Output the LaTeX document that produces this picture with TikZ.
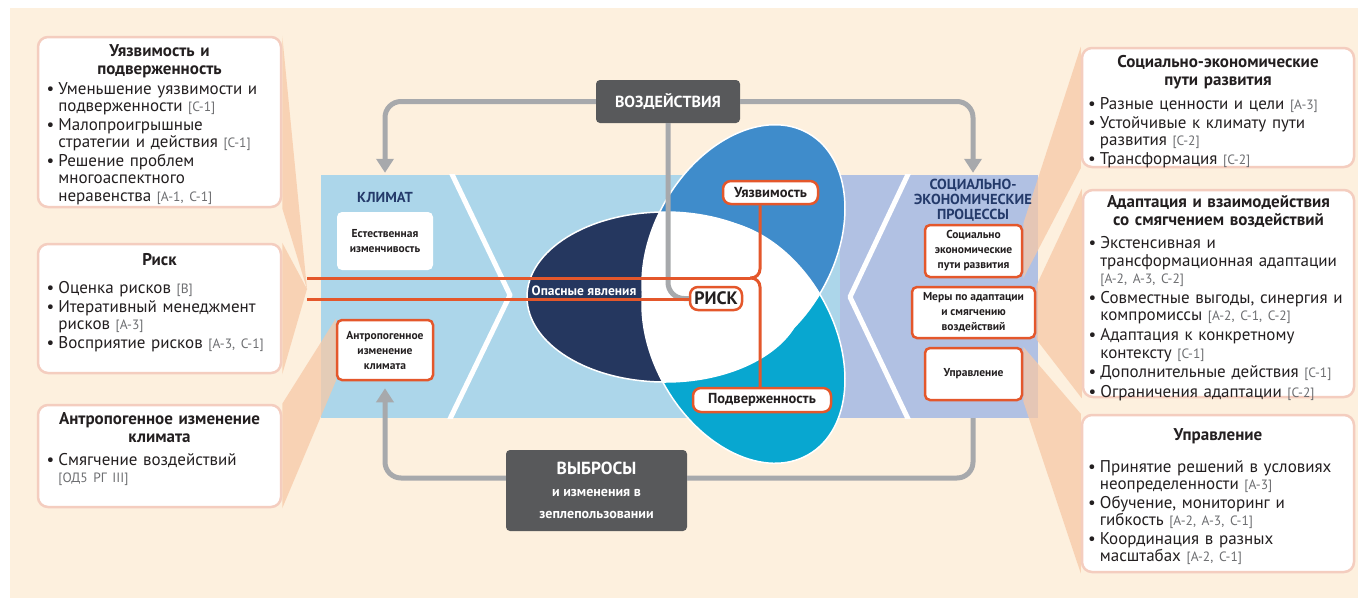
\documentclass[tikz,border=0pt]{standalone}
\usepackage{fontspec}
\setmainfont{PT Sans}
\usetikzlibrary{arrows.meta, positioning, calc}
\definecolor{Cream}{HTML}{FDF0DE}
\definecolor{Peach}{HTML}{F7C9A6}
\definecolor{ClimBlue}{HTML}{ACD6EA}
\definecolor{SocBlue}{HTML}{B1C1E3}
\definecolor{Navy}{HTML}{25375F}
\definecolor{PetalBlue}{HTML}{3F8CCB}
\definecolor{PetalTeal}{HTML}{08A7D0}
\definecolor{RiskOrange}{HTML}{E4572B}
\definecolor{BoxGray}{HTML}{58595B}
\definecolor{FlowGray}{HTML}{A7A9AC}
\definecolor{CallBorder}{HTML}{F4CDBF}
\definecolor{NavyText}{HTML}{243A6A}
\definecolor{RefGray}{HTML}{6D6E71}
\definecolor{TextDark}{HTML}{231F20}
\pgfdeclarelayer{back}
\pgfdeclarelayer{wedges}
\pgfsetlayers{back,wedges,main}
\newcommand{\refs}[1]{{\fontsize{13.5}{14}\selectfont\color{RefGray}#1}}
\newcommand{\ctitle}[2][2pt]{{\centering\fontsize{17}{18}\selectfont\bfseries #2\par}\vspace{#1}}
\newcommand{\bitem}[1]{\noindent\hangindent=0.7em\hangafter=1\makebox[0.7em][l]{\textbullet}#1\par}

\begin{document}
\begin{tikzpicture}[
    x=1pt, y=-1pt,
    band/.style={rectangle, inner sep=0pt},
    callout/.style={rectangle, rounded corners=10pt, draw=CallBorder, line width=2.5pt, fill=white},
    calltext/.style={text width=#1, align=left, inner sep=0pt,
                     font=\fontsize{17}{17.5}\selectfont, text=TextDark,
                     execute at begin node={\setlength{\parskip}{1pt}}},
    calltext/.default=226pt,
    smallbox/.style={rectangle, rounded corners=5pt, fill=white, draw=RiskOrange, line width=2.5pt,
                     align=center, font=\fontsize{11.5}{15}\selectfont\bfseries, text=TextDark},
    tag/.style={rectangle, rounded corners=8pt, fill=white, draw=RiskOrange, line width=2.5pt,
                inner sep=0pt, font=\fontsize{14.5}{16}\selectfont\bfseries, text=TextDark},
    darkbox/.style={rectangle, rounded corners=4pt, fill=BoxGray, text=white, align=center},
    flow/.style={draw=FlowGray, line width=5pt, rounded corners=16pt},
    flowarrow/.style={flow, -{Triangle[length=14pt, width=17pt]}},
    riskline/.style={draw=RiskOrange, line width=3pt},
    wedge/.style={fill=Peach, fill opacity=0.75},
    chevron/.style={draw=white, line width=5pt, line join=round},
    bandtitle/.style={font=\fontsize{14.5}{15}\selectfont\bfseries, text=NavyText, align=center},
    petal/.style={rotate around={#1}}
]
    \useasboundingbox (0,0) rectangle (1368,603);

    % Background and bands
    \begin{pgfonlayer}{back}
        \fill[Cream] (10,8) rectangle (1358,598);
        \node[band, fill=ClimBlue, minimum width=519, minimum height=243] (climate) at (580.5,296.5) {};
        \node[band, fill=SocBlue, minimum width=198, minimum height=243] (socio) at (939,296.5) {};
        \begin{scope}
            \clip (climate.north west) rectangle (socio.south east);
            \draw[chevron] (450,170) -- (510,295) -- (448,423);
            \draw[chevron] (910,170) -- (850,297) -- (910,423);
        \end{scope}
    \end{pgfonlayer}

    % Hazards, vulnerability, exposure
    \fill[Navy] (665,297) ellipse [x radius=138, y radius=85];
    \fill[PetalBlue, petal={60:(743.5,246)}] (743.5,246) ellipse [x radius=130, y radius=90];
    \fill[PetalTeal, petal={-60:(743.5,342)}] (743.5,342) ellipse [x radius=130, y radius=90];
    \begin{scope}
        \clip (665,297) ellipse [x radius=138, y radius=85];
        \fill[white, petal={60:(743.5,246)}] (743.5,246) ellipse [x radius=130, y radius=90];
        \fill[white, petal={-60:(743.5,342)}] (743.5,342) ellipse [x radius=130, y radius=90];
    \end{scope}
    \begin{scope}
        \clip[petal={60:(743.5,246)}] (743.5,246) ellipse [x radius=130, y radius=90];
        \fill[white, petal={-60:(743.5,342)}] (743.5,342) ellipse [x radius=130, y radius=90];
    \end{scope}
    \draw[white, line width=1.5pt] (665,297) ellipse [x radius=138, y radius=85];
    \draw[white, line width=1.5pt, petal={60:(743.5,246)}] (743.5,246) ellipse [x radius=130, y radius=90];
    \draw[white, line width=1.5pt, petal={-60:(743.5,342)}] (743.5,342) ellipse [x radius=130, y radius=90];

    % Drivers
    \node[darkbox, minimum width=144, minimum height=43, font=\fontsize{16}{18}\selectfont\bfseries] (vozd) at (668,101.5) {ВОЗДЕЙСТВИЯ};
    \node[darkbox, minimum width=181, minimum height=81, font=\fontsize{14}{22}\selectfont\bfseries] (vybr) at (596.5,490.5)
        {{\fontsize{17.5}{22}\selectfont ВЫБРОСЫ}\\и изменения в\\зеплепользовании};

    % Climate side
    \node[bandtitle] (climlabel) at (385,197) {КЛИМАТ};
    \node[smallbox, draw=none, minimum width=96, minimum height=58] (natvar) at (385,241) {Естественная\\изменчивость};
    \node[smallbox, minimum width=96, minimum height=60] (anthr) at (385,350) {Антропогенное\\изменение\\климата};

    % Socioeconomic side
    \node[bandtitle] (soclabel) at (973,200) {СОЦИАЛЬНО-\\ЭКОНОМИЧЕСКИЕ\\ПРОЦЕССЫ};
    \node[smallbox, minimum width=97, minimum height=52] (sepbox) at (973.5,251) {Социально\\экономические\\пути развития};
    \node[smallbox, minimum width=123, minimum height=51] (meras) at (973.5,312.5) {Меры по адаптации\\и смягчению\\воздействий};
    \node[smallbox, minimum width=97, minimum height=52] (uprav) at (973.5,374) {Управление};

    % Risk tags
    \node[font=\fontsize{13.5}{15}\selectfont\bfseries, text=white] (hazard) at (584,291) {Опасные явления};
    \node[tag, minimum width=52, minimum height=23, font=\fontsize{18}{18}\selectfont\bfseries] (risk) at (716,298.5) {РИСК};
    \node[tag, minimum width=95, minimum height=23] (uyaz) at (770.5,192.5) {Уязвимость};
    \node[tag, minimum width=138, minimum height=24] (podv) at (762,400) {Подверженность};

    % Callouts, left
    \node[callout, minimum width=243, minimum height=170] (vulncall) at (159.5,122) {};
    \node[calltext, below=9pt of vulncall.north] (vulntext) {
        \ctitle[1pt]{Уязвимость и\\подверженность}
        \bitem{Уменьшение уязвимости и\newline подверженности \refs{[С-1]}}
        \bitem{Малопроигрышные\newline стратегии и действия \refs{[С-1]}}
        \bitem{Решение проблем\newline многоаспектного\newline неравенства \refs{[А-1, С-1]}}
    };
    \node[callout, minimum width=243, minimum height=129] (riskcall) at (159.5,308.5) {};
    \node[calltext, below=10pt of riskcall.north] (risktext) {
        \ctitle[10pt]{Риск}
        \bitem{Оценка рисков \refs{[В]}}
        \bitem{Итеративный менеджмент\newline рисков \refs{[А-3]}}
        \bitem{Восприятие рисков \refs{[А-3, С-1]}}
    };
    \node[callout, minimum width=243, minimum height=102] (anthcall) at (159.5,456) {};
    \node[calltext, below=9pt of anthcall.north] (anthtext) {
        \ctitle[4pt]{Антропогенное изменение\\климата}
        \bitem{Смягчение воздействий\newline\refs{[ОД5 РГ III]}}
    };

    % Callouts, right
    \node[callout, minimum width=272, minimum height=119] (sepcall) at (1218,107.5) {};
    \node[calltext=260pt, below=8pt of sepcall.north] (septext) {
        \ctitle[6pt]{Социально-экономические\\пути развития}
        \bitem{Разные ценности и цели \refs{[А-3]}}
        \bitem{Устойчивые к климату пути\newline развития \refs{[С-2]}}
        \bitem{Трансформация \refs{[С-2]}}
    };
    \node[callout, minimum width=271, minimum height=207] (adcall) at (1218.5,293.5) {};
    \node[calltext=260pt, below=7pt of adcall.north,
          execute at begin node={\setlength{\parskip}{2.2pt}}] (adtext) {
        \ctitle[3pt]{Адаптация и взаимодействия\\со смягчением воздействий}
        \bitem{Экстенсивная и\newline трансформационная адаптации\newline\refs{[А-2, А-3, С-2]}}
        \bitem{Совместные выгоды, синергия и\newline компромиссы \refs{[А-2, С-1, С-2]}}
        \bitem{Адаптация к конкретному\newline контексту \refs{[С-1]}}
        \bitem{Дополнительные действия \refs{[С-1]}}
        \bitem{Ограничения адаптации \refs{[С-2]}}
    };
    \node[callout, minimum width=272, minimum height=157] (govcall) at (1218,493.5) {};
    \node[calltext=260pt, below=15pt of govcall.north] (govtext) {
        \ctitle[13pt]{Управление}
        \bitem{Принятие решений в условиях\newline неопределенности \refs{[А-3]}}
        \bitem{Обучение, мониторинг и\newline гибкость \refs{[А-2, А-3, С-1]}}
        \bitem{Координация в разных\newline масштабах \refs{[А-2, С-1]}}
    };

    % Wedges from callouts
    \coordinate (lapex) at (307,289);
    \begin{pgfonlayer}{wedges}
        \fill[wedge] (vulncall.north east) -- (lapex) -- (vulncall.south east) -- cycle;
        \fill[wedge] (riskcall.north east) -- (lapex) -- (riskcall.south east) -- cycle;
        \fill[wedge] (anthcall.north east) -- (anthr.north west) -- (anthr.south west) -- (anthcall.south east) -- cycle;
        \fill[wedge] (sepcall.north west) -- (sepbox.north east) -- (sepbox.south east) -- (sepcall.south west) -- cycle;
        \fill[wedge] (adcall.north west) -- (meras.north east) -- (meras.south east) -- (adcall.south west) -- cycle;
        \fill[wedge] (govcall.north west) -- (uprav.north east) -- (uprav.south east) -- (govcall.south west) -- cycle;
    \end{pgfonlayer}

    % Gray flows
    \coordinate (emis) at (0,478);
    \draw[flowarrow, shorten >=2pt] (vozd.west) -| (climate.north -| climlabel);
    \draw[flowarrow, shorten >=2pt] (vozd.east) -| (socio.north -| soclabel);
    \draw[flow] (vozd.south) |- (risk.west);
    \draw[flow] (socio.south -| soclabel) |- (vybr.east |- emis);
    \draw[flowarrow, shorten >=7pt] (vybr.west |- emis) -| (anthr.south);

    % Risk lines
    \coordinate (rtop) at (307,278);
    \coordinate (rbot) at (307,299);
    \coordinate (brace) at (760,278);
    \coordinate (bracetip) at (750,278);
    \draw[riskline] (rtop) -- (bracetip);
    \draw[riskline] (rbot) -- (rbot -| risk.west);
    \draw[riskline, rounded corners=9pt] (uyaz.south -| brace) -- (brace) -- (bracetip);
    \draw[riskline, rounded corners=9pt] (bracetip) -- (brace) -- (podv.north -| brace);
\end{tikzpicture}
\end{document}
